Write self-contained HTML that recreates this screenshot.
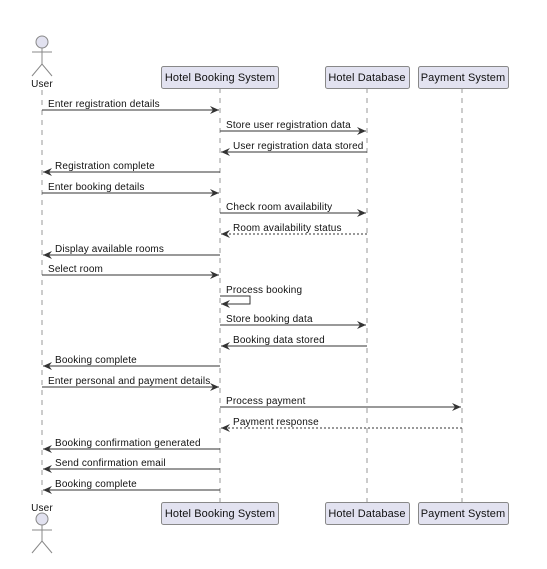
<!DOCTYPE html>
<html><head><meta charset="utf-8"><style>
html,body{margin:0;padding:0;background:#fff;}
svg{display:block;}
text{font-family:"Liberation Sans",sans-serif;font-size:10px;fill:#111;letter-spacing:0.15px;}
</style></head><body>
<svg width="547" height="569" viewBox="0 0 547 569" xmlns="http://www.w3.org/2000/svg">
<defs>
<marker id="a" markerWidth="10" markerHeight="8" refX="9" refY="4" orient="auto" markerUnits="userSpaceOnUse">
<path d="M0,0 L9,4 L0,8 L3,4 Z" fill="#333"/></marker>
</defs>
<g stroke="#999" stroke-dasharray="5,5" stroke-width="1">
<line x1="42" y1="90" x2="42" y2="500"/>
<line x1="220" y1="88" x2="220" y2="502"/>
<line x1="367" y1="88" x2="367" y2="502"/>
<line x1="462" y1="88" x2="462" y2="502"/>
</g>
<g fill="#e2e2f0" stroke="#888" stroke-width="1">
<circle cx="42" cy="42" r="6"/>
<circle cx="42" cy="519" r="6"/>
</g>
<g stroke="#888" stroke-width="1" fill="none">
<line x1="42" y1="48" x2="42" y2="64"/><line x1="32" y1="52" x2="52" y2="52"/>
<path d="M32,76 L42,64 L52,76"/>
<line x1="42" y1="525" x2="42" y2="541"/><line x1="32" y1="530" x2="52" y2="530"/>
<path d="M32,553 L42,541 L52,553"/>
</g>
<text x="42" y="87" text-anchor="middle">User</text>
<text x="42" y="511" text-anchor="middle">User</text>
<g fill="#e2e2f0" stroke="#888" stroke-width="1">
<rect x="161.5" y="66.5" width="117" height="22" rx="2"/>
<rect x="325.5" y="66.5" width="84" height="22" rx="2"/>
<rect x="418.5" y="66.5" width="90" height="22" rx="2"/>
<rect x="161.5" y="502.5" width="117" height="22" rx="2"/>
<rect x="325.5" y="502.5" width="84" height="22" rx="2"/>
<rect x="418.5" y="502.5" width="90" height="22" rx="2"/>
</g>
<text x="220" y="81" text-anchor="middle" style="font-size:11px;letter-spacing:0.1px">Hotel Booking System</text>
<text x="367" y="81" text-anchor="middle" style="font-size:11px;letter-spacing:0.1px">Hotel Database</text>
<text x="463" y="81" text-anchor="middle" style="font-size:11px;letter-spacing:0.1px">Payment System</text>
<text x="220" y="517" text-anchor="middle" style="font-size:11px;letter-spacing:0.1px">Hotel Booking System</text>
<text x="367" y="517" text-anchor="middle" style="font-size:11px;letter-spacing:0.1px">Hotel Database</text>
<text x="463" y="517" text-anchor="middle" style="font-size:11px;letter-spacing:0.1px">Payment System</text>
<g stroke="#333" stroke-width="1" marker-end="url(#a)" fill="none">
<line x1="42" y1="110" x2="219" y2="110"/>
<line x1="220" y1="131" x2="366" y2="131"/>
<line x1="367" y1="152" x2="221" y2="152"/>
<line x1="220" y1="172" x2="43" y2="172"/>
<line x1="42" y1="193" x2="219" y2="193"/>
<line x1="220" y1="213" x2="366" y2="213"/>
<line x1="367" y1="234" x2="221" y2="234" stroke-dasharray="2,2"/>
<line x1="220" y1="255" x2="43" y2="255"/>
<line x1="42" y1="275" x2="219" y2="275"/>
<path d="M220,296 L250,296 L250,304 L221,304"/>
<line x1="220" y1="325" x2="366" y2="325"/>
<line x1="367" y1="346" x2="221" y2="346"/>
<line x1="220" y1="366" x2="43" y2="366"/>
<line x1="42" y1="387" x2="219" y2="387"/>
<line x1="220" y1="407" x2="461" y2="407"/>
<line x1="462" y1="428" x2="221" y2="428" stroke-dasharray="2,2"/>
<line x1="220" y1="449" x2="43" y2="449"/>
<line x1="220" y1="469" x2="43" y2="469"/>
<line x1="220" y1="490" x2="43" y2="490"/>
</g>
<text x="48" y="107">Enter registration details</text>
<text x="226" y="128">Store user registration data</text>
<text x="233" y="149">User registration data stored</text>
<text x="55" y="169">Registration complete</text>
<text x="48" y="190">Enter booking details</text>
<text x="226" y="210">Check room availability</text>
<text x="233" y="231">Room availability status</text>
<text x="55" y="252">Display available rooms</text>
<text x="48" y="272">Select room</text>
<text x="226" y="293">Process booking</text>
<text x="226" y="322">Store booking data</text>
<text x="233" y="343">Booking data stored</text>
<text x="55" y="363">Booking complete</text>
<text x="48" y="384">Enter personal and payment details</text>
<text x="226" y="404">Process payment</text>
<text x="233" y="425">Payment response</text>
<text x="55" y="446">Booking confirmation generated</text>
<text x="55" y="466">Send confirmation email</text>
<text x="55" y="487">Booking complete</text>
</svg>
</body></html>
